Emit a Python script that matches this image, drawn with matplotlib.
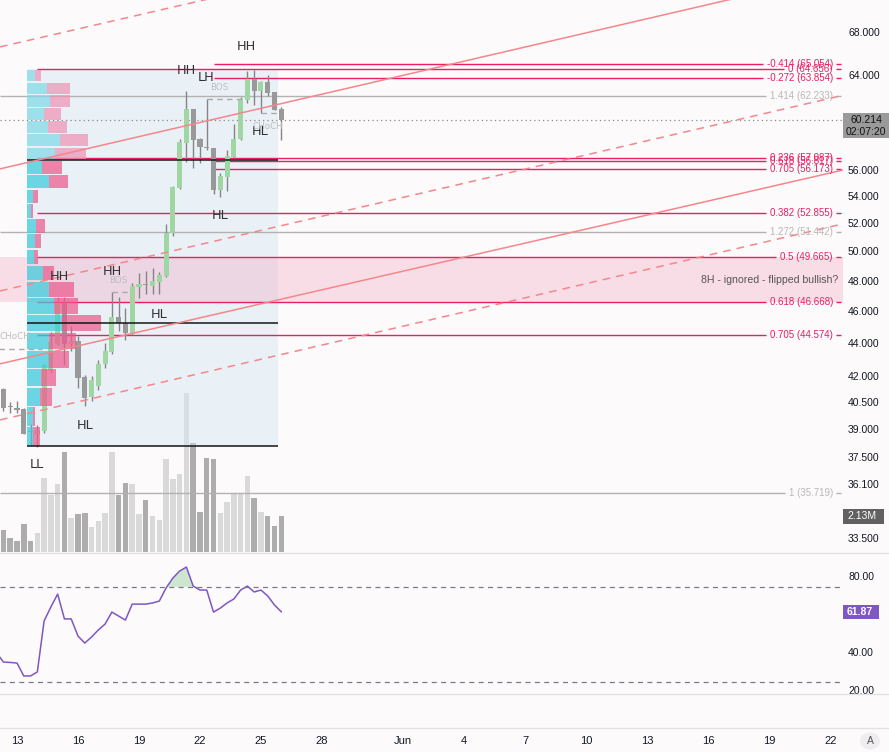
import numpy as np
import matplotlib
matplotlib.use("Agg")
import matplotlib.pyplot as plt
from matplotlib.patches import Rectangle, Circle
from matplotlib.lines import Line2D
from matplotlib.transforms import blended_transform_factory, Bbox, TransformedBbox
from matplotlib.ticker import NullLocator

# ---------------- data (8H candles, first one = May 12 08:00) ----------------
opens = [41.32, 40.29, 40.23, 40.17, 38.90, 38.79, 38.96, 42.43, 44.00, 46.60,
         44.00, 44.18, 42.01, 40.85, 41.49, 42.79, 43.51, 45.69, 45.31, 44.68,
         47.65, 47.85, 47.72, 47.98, 48.39, 51.39, 54.73, 58.28, 61.11, 58.61,
         57.96, 57.88, 54.57, 55.58, 57.15, 58.61, 61.89, 63.73, 62.67, 63.47,
         62.58, 61.11]
highs = [41.37, 40.57, 40.63, 40.23, 39.34, 39.29, 42.79, 44.74, 46.99, 46.99,
         45.12, 44.49, 42.13, 42.07, 43.03, 44.06, 47.32, 46.99, 46.27, 47.92,
         48.59, 48.73, 48.93, 48.66, 52.04, 54.88, 58.61, 62.67, 61.11, 58.69,
         61.97, 57.88, 55.89, 57.71, 59.85, 62.15, 64.45, 64.54, 63.55, 64.09,
         62.58, 61.29]
lows = [40.06, 39.95, 39.95, 38.79, 38.20, 38.09, 38.85, 42.31, 43.94, 42.73,
        43.57, 41.37, 40.34, 40.63, 41.26, 42.55, 43.39, 44.81, 44.25, 44.56,
        46.92, 47.19, 47.19, 47.19, 48.32, 51.18, 54.65, 56.75, 56.28, 56.67,
        57.71, 54.27, 54.04, 54.50, 57.07, 58.53, 61.63, 61.46, 60.77, 62.23,
        61.03, 58.53]
closes = [40.23, 40.26, 40.12, 38.79, 38.88, 39.01, 42.73, 44.12, 46.60, 44.00,
          44.18, 41.96, 40.80, 41.84, 42.79, 43.57, 45.69, 45.31, 44.68, 47.72,
          47.85, 47.78, 48.05, 48.46, 51.39, 54.80, 58.36, 61.11, 58.53, 57.96,
          57.88, 54.57, 55.65, 57.23, 58.61, 61.97, 63.73, 62.67, 63.47, 62.50,
          61.03, 60.214]
volumes_m = [1.30, 0.83, 0.65, 1.66, 0.65, 1.12, 4.38, 3.37, 4.02, 5.92,
             2.01, 2.25, 2.31, 1.48, 1.83, 2.31, 5.92, 3.37, 4.08, 4.02,
             2.25, 3.08, 2.13, 1.89, 5.50, 4.32, 4.62, 9.41, 6.45, 2.37,
             5.56, 5.50, 2.31, 2.96, 3.49, 3.49, 4.50, 3.20, 2.37, 2.13,
             1.54, 2.13]
# RSI starts one candle before the first candle
rsi_values = [40.2, 35.4, 35.2, 34.9, 28.1, 28.1, 30.2, 57.0, 64.4, 71.2, 58.1,
              58.1, 49.1, 45.4, 48.6, 52.3, 55.4, 61.7, 59.6, 57.5, 65.9,
              65.9, 65.9, 66.5, 67.5, 74.4, 79.6, 83.3, 85.4, 75.4, 73.3,
              73.3, 61.7, 63.8, 66.5, 68.6, 73.3, 75.4, 72.3, 73.3, 70.2,
              65.4, 61.87]

# fixed-range volume profile (bins from low to high price)
profile_up = [6, 6, 13, 14, 22, 22, 34, 26, 22, 16, 7, 8, 9, 4, 6, 22, 15,
              27, 32, 21, 17, 23, 20, 8]
profile_down = [7, 2, 12, 14, 19, 26, 39, 24, 24, 10, 4, 6, 9, 2, 5, 18, 19,
                31, 28, 18, 16, 19, 22, 6]
profile_low, profile_high = 38.15, 64.63
profile_start_day, profile_end_day = 13.5, 25.833
value_area_bins = 17
poc_price, vah_price = 45.32, 56.90

fib_labels = ['-0.414', '0', '-0.272', '0.236', '0.618', '0.705', '0.382',
              '0.5', '0.618', '0.705']
fib_prices = [65.054, 64.656, 63.854, 57.087, 56.817, 56.173, 52.855,
              49.665, 46.668, 44.574]
fib_starts = [22.667, 14.0, 22.667, 14.0, 22.667, 22.667, 14.0, 14.0, 14.0, 14.0]
ext_labels = ['1.414', '1.272', '1']
ext_prices = [62.233, 51.442, 35.719]

zone_low, zone_high = 46.668, 49.665
zone_text = '8H - ignored - flipped bullish?'

trend_days = [12.164, 53.63]
solid_a = [56.20, 73.88]
solid_b = [42.79, 56.11]
dashed_a = [66.65, 87.43]
dashed_b = [47.38, 62.29]
dashed_c = [39.56, 52.04]

struct_text = ['HH', 'HH', 'LH', 'HL', 'HL', 'HH', 'HH', 'HL', 'HL', 'LL']
struct_day = [24.26, 21.31, 22.32, 24.95, 22.99, 17.67, 15.07, 20.01, 16.34, 13.98]
struct_price = [66.65, 64.45, 63.82, 59.18, 52.66, 48.69, 48.32, 45.82, 39.23, 37.17]
tag_text = ['BOS', 'CHoCH', 'BOS', 'CHoCH']
tag_day = [22.96, 25.32, 17.99, 12.88]
tag_price = [62.94, 59.67, 48.08, 44.46]
break_start = [22.333, 25.0, 17.667, 12.0]
break_end = [24.0, 25.8, 18.5, 14.23]
break_price = [61.97, 60.77, 47.32, 43.69]

price_ticks = [68, 64, 56, 54, 52, 50, 48, 46, 44, 42, 40.5, 39, 37.5, 36.1, 33.5]
rsi_ticks = [80, 40, 20]
date_ticks = [13, 16, 19, 22, 25, 28, 32, 35, 38, 41, 44, 47, 50, 53]
date_labels = ['13', '16', '19', '22', '25', '28', 'Jun', '4', '7', '10',
               '13', '16', '19', '22']
last_price = 60.214
countdown = '02:07:20'
last_volume_label = '2.13M'
last_rsi = 61.87

# ---------------- layout ----------------
first_day = 12 + 1 / 3
step = 1 / 3
n = len(closes)
xs = first_day + step * np.arange(n)
rsi_x = first_day + step * (np.arange(len(rsi_values)) - 1)

BG = '#fcfafb'
W, H = 889, 752
PR = 843
fig = plt.figure(figsize=(W / 100, H / 100), dpi=100, facecolor=BG)


def rect(top, bottom):
    return [0, 1 - bottom / H, PR / W, (bottom - top) / H]


vax = fig.add_axes(rect(0, 552))
ax = fig.add_axes(rect(0, 552))
rax = fig.add_axes(rect(553, 694))
eax = fig.add_axes(rect(694, 728))
vax.set_zorder(0)
ax.set_zorder(1)
ax.patch.set_visible(False)
XMIN, XMAX = 12.164, 53.63
for a in (vax, ax, rax, eax):
    a.set_xlim(XMIN, XMAX)
    for s in a.spines.values():
        s.set_visible(False)
for a in (vax, rax, eax):
    a.set_facecolor(BG)

ax.set_yscale('log')
ax.set_ylim(32.89, 71.17)
for a in (vax, ax, rax, eax):
    a.yaxis.set_major_locator(NullLocator())
    a.yaxis.set_minor_locator(NullLocator())
    a.xaxis.set_minor_locator(NullLocator())
for a in (vax, ax, rax):
    a.set_xticks([])

FONT = ['Liberation Sans', 'DejaVu Sans']
ytr = blended_transform_factory(ax.transAxes, ax.transData)

# volume
up = [c >= o for o, c in zip(opens, closes)]
vax.bar(xs, volumes_m, width=0.27, color=['#d9d9d9' if u else '#adadad' for u in up],
        zorder=1)
vax.set_ylim(0, 32.66)

# profile box and zone
ax.add_patch(Rectangle((profile_start_day, profile_low), profile_end_day - profile_start_day,
                       profile_high - profile_low, fc='#d6e8f2', alpha=0.45, ec='none', zorder=0.5))
ax.add_patch(Rectangle((XMIN, zone_low), XMAX - XMIN, zone_high - zone_low,
                       fc='#f48fb1', alpha=0.27, ec='none', zorder=0.6))
ax.text(0.994, np.sqrt(zone_low * zone_high), zone_text, transform=ytr, ha='right',
        va='center', fontsize=7.6, color='#555555', family=FONT, zorder=6)

# candles
for xi, o, h, l, c in zip(xs, opens, highs, lows, closes):
    col = '#a0d6a3' if c >= o else '#999999'
    ax.vlines(xi, l, h, color='#858585', lw=1.0, zorder=3)
    lo, hi = min(o, c), max(o, c)
    hi = max(hi, lo * 1.0015)
    ax.add_patch(Rectangle((xi - 0.125, lo), 0.25, hi - lo, fc=col, ec='none', zorder=3.2))

# volume profile bars
edges = np.linspace(profile_low, profile_high, len(profile_up) + 1)
tot_max = max(u + d for u, d in zip(profile_up, profile_down))
scale = 0.295 * (profile_end_day - profile_start_day) / tot_max
for k, (u, d) in enumerate(zip(profile_up, profile_down)):
    y0 = edges[k]
    y1 = edges[k + 1] * np.exp(-1.3 / 715)
    inside = k < value_area_bins
    cu = '#3ccbdc' if inside else '#80d8e6'
    cd = '#ee5a8c' if inside else '#ef93b5'
    ax.add_patch(Rectangle((profile_start_day, y0), u * scale, y1 - y0, fc=cu, ec='none',
                           alpha=0.72, zorder=4))
    ax.add_patch(Rectangle((profile_start_day + u * scale, y0), d * scale, y1 - y0, fc=cd,
                           ec='none', alpha=0.72, zorder=4))
for p in (vah_price, poc_price, profile_low):
    ax.hlines(p, profile_start_day, profile_end_day, color='#151515', lw=1.1, zorder=4.5)

# trend channel
for ys, ls in ((solid_a, '-'), (solid_b, '-'), (dashed_a, (0, (5, 4))),
               (dashed_b, (0, (5, 4))), (dashed_c, (0, (5, 4)))):
    ax.plot(trend_days, ys, color='#f5868b', lw=1.1, ls=ls, zorder=5)

# current price line
ax.axhline(last_price, color='#8a8a8a', lw=0.9, ls=(0, (1, 2.5)), zorder=2)

# structure labels
for t, d, p in zip(struct_text, struct_day, struct_price):
    ax.text(d, p, t, ha='center', va='center', fontsize=9.3, color='#333333', zorder=7)
for t, d, p in zip(tag_text, tag_day, tag_price):
    ax.text(d, p, t, ha='center', va='center', fontsize=6.3, color='#bdbdbd', zorder=7)
for s, e, p in zip(break_start, break_end, break_price):
    ax.hlines(p, s, e, color='#aaaaaa', lw=1.0, ls=(0, (4, 3)), zorder=3.5)

# fib labels (text first, then lines up to the text)
fib_items = []
for lab, p, st in zip(fib_labels, fib_prices, fib_starts):
    t = ax.text(0.988, p, f'{lab} ({p:.3f})', transform=ytr, ha='right', va='center',
                fontsize=7, color='#e91e63', family=FONT, zorder=6)
    fib_items.append((t, p, st, '#e91e63'))
for lab, p in zip(ext_labels, ext_prices):
    t = ax.text(0.988, p, f'{lab} ({p:.3f})', transform=ytr, ha='right', va='center',
                fontsize=7, color='#b8b8b8', family=FONT, zorder=6)
    fib_items.append((t, p, XMIN, '#b2b2b2'))

# right price axis
for p in price_ticks:
    ax.text(1 + 5 / PR, p, f'{p:.3f}', transform=ytr, ha='left', va='center',
            fontsize=7.5, color='#131722', family=FONT, clip_on=False)

# RSI
rax.set_ylim(18.6, 92.8)
rv = np.array(rsi_values)
rax.fill_between(rsi_x, 75, rv, where=rv > 75, interpolate=True, color='#66bb6a',
                 alpha=0.3, lw=0)
rax.plot(rsi_x, rv, color='#7e57c2', lw=1.1)
for lvl in (75, 25):
    rax.axhline(lvl, color='#787b86', lw=0.9, ls=(0, (4, 3.5)))
rtr = blended_transform_factory(rax.transAxes, rax.transData)
for p in rsi_ticks:
    t = rax.text(1 + 5 / PR, p, f'{p:.2f}', transform=rtr, ha='left', va='center',
                 fontsize=7.5, color='#131722', family=FONT)
    t.set_clip_box(TransformedBbox(Bbox.from_extents(0, 0, 1.2, 1), rax.transAxes))
    t.set_clip_on(True)

# date axis
eax.set_xticks(date_ticks)
eax.set_xticklabels(date_labels, fontsize=8, color='#131722', family=FONT)
eax.tick_params(axis='x', length=0, pad=6)

# separators
for yy in (552.5, 694, 728):
    fig.add_artist(Line2D([0, 1], [1 - yy / H] * 2, color='#e4e1e4', lw=1))

fig.canvas.draw()
r = fig.canvas.get_renderer()
for t, p, st, col in fib_items:
    bb = t.get_window_extent(r)
    x_end = ax.transData.inverted().transform((bb.x0 - 4, bb.y0))[0]
    x_dash0 = ax.transData.inverted().transform((bb.x1 + 3, bb.y0))[0]
    x_dash1 = ax.transData.inverted().transform((bb.x1 + 8, bb.y0))[0]
    ax.hlines(p, st, x_end, color=col, lw=1.0, zorder=2)
    ax.hlines(p, x_dash0, x_dash1, color=col, lw=1.0, zorder=2, clip_on=False)

inv = fig.transFigure.inverted()


def fig_y(a, val):
    return inv.transform(a.transData.transform((XMIN, val)))[1]


fy = fig_y(ax, last_price)
fig.add_artist(Rectangle((PR / W, fy - 18 / H), (W - PR) / W, 25 / H, fc='#9a9a9a',
                         ec='none', transform=fig.transFigure))
fig.text(866 / W, fy, f'{last_price:.3f}', ha='center', va='center', fontsize=7.5,
         color='#111111', family=FONT)
fig.text(866 / W, fy - 12 / H, countdown, ha='center', va='center', fontsize=7.5,
         color='#111111', family=FONT)

fyv = fig_y(vax, volumes_m[-1])
fig.add_artist(Rectangle((PR / W, fyv - 7.5 / H), 41 / W, 15 / H, fc='#616161',
                         ec='none', transform=fig.transFigure))
fig.text(862.5 / W, fyv, last_volume_label, ha='center', va='center', fontsize=7.5,
         color='white', family=FONT)

fyr = fig_y(rax, last_rsi)
fig.add_artist(Rectangle((PR / W, fyr - 7 / H), 36 / W, 14 / H, fc='#7e57c2',
                         ec='none', transform=fig.transFigure))
fig.text(860 / W, fyr, f'{last_rsi:.2f}', ha='center', va='center', fontsize=7.5,
         color='white', family=FONT, weight='bold')

fig.add_artist(Circle((870 / W, 1 - 741 / H), 10 / W, fc='#efedef', ec='none',
                      transform=fig.transFigure))
fig.text(870 / W, 1 - 741 / H, 'A', ha='center', va='center', fontsize=7.5,
         color='#555555', family=FONT)

fig.savefig('out.png', dpi=100, facecolor=BG)
